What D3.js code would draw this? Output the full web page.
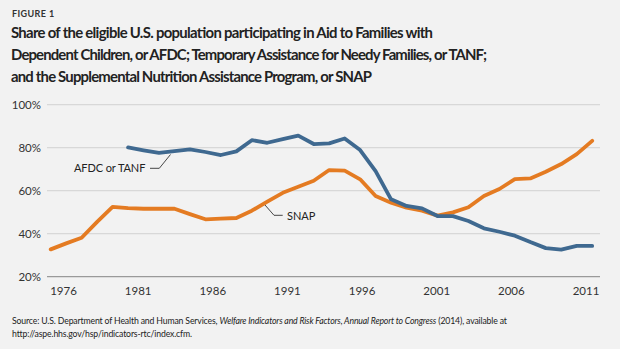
<!DOCTYPE html>
<meta charset="utf-8">
<script src="https://d3js.org/d3.v7.min.js"></script>
<html>
<head>
<style>
  body { margin: 0; background: #f2f2f2; }
  svg { display: block; font-family: Lato, "Open Sans", sans-serif; }
</style>
</head>
<body>
<div id="chart"></div>
<script>
// years and participation shares (percent)
var years = d3.range(1976, 2012);
var afdcYears = d3.range(1981, 2012);
var afdc = [80.1, 78.8, 77.6, 78.4, 79.2, 78.0, 76.6, 78.3, 83.5, 82.3, 84.0, 85.6, 81.7, 82.0, 84.3,
            78.9, 69.1, 56.0, 52.9, 51.8, 48.2, 48.2, 45.9, 42.5, 40.9, 39.1, 36.1, 33.3, 32.6, 34.3, 34.3];
var snap = [32.7, 35.5, 38.1, 45.5, 52.5, 51.9, 51.6, 51.6, 51.6, 49.1, 46.7, 47.0, 47.3, 50.7, 54.9,
            59.0, 61.8, 64.6, 69.6, 69.3, 65.3, 57.5, 54.4, 52.1, 50.7, 48.4, 49.9, 52.3, 57.5, 60.8,
            65.4, 65.7, 68.8, 72.4, 77.0, 83.2];
var yTicks = [20, 40, 60, 80, 100];
var xLabels = ["1976", "1981", "1986", "1991", "1996", "2001", "2006", "2011"];

var titleLines = [
  "Share of the eligible U.S. population participating in Aid to Families with",
  "Dependent Children, or AFDC; Temporary Assistance for Needy Families, or TANF;",
  "and the Supplemental Nutrition Assistance Program, or SNAP"
];
// the original face is narrower than Lato, so each title line is fitted to its width
var titleWidths = [422, 476, 361];

var width = 620, height = 349;
var plot = {left: 47, right: 600, top: 104.7, bottom: 276.7};

var svg = d3.select("#chart").append("svg")
    .attr("width", width)
    .attr("height", height);

svg.append("rect").attr("width", width).attr("height", height).attr("fill", "#f2f2f2");

// header
svg.append("text")
    .attr("x", 12).attr("y", 17)
    .attr("font-size", 9).attr("font-weight", 700)
    .attr("letter-spacing", 0.4)
    .attr("fill", "#333")
    .text("FIGURE 1");

svg.append("g").selectAll("text")
  .data(titleLines)
  .enter().append("text")
    .attr("x", 11)
    .attr("y", function(d, i) { return 37.5 + i * 22; })
    .attr("font-size", 14.9).attr("font-weight", 700)
    .attr("textLength", function(d, i) { return titleWidths[i]; })
    .attr("lengthAdjust", "spacing")
    .attr("fill", "#222")
    .text(function(d) { return d; });

var x = d3.scaleLinear().domain([1976, 2011]).range([50.7, 592.2]);
var y = d3.scaleLinear().domain([20, 100]).range([plot.bottom, plot.top]);
// the category labels sit slightly inside the data range
var xl = d3.scalePoint().domain(xLabels).range([63, 585.5]);

// gridlines
svg.append("g").selectAll("line")
  .data(yTicks)
  .enter().append("line")
    .attr("x1", plot.left).attr("x2", plot.right)
    .attr("y1", function(d) { return y(d); })
    .attr("y2", function(d) { return y(d); })
    .attr("stroke", function(d) { return d === 20 ? "#9a9a9a" : "#d8d8d8"; })
    .attr("stroke-width", 1.3);

var yAxis = svg.append("g")
    .attr("transform", "translate(41,0)")
    .call(d3.axisLeft(y).tickValues(yTicks).tickSize(0).tickPadding(0)
      .tickFormat(function(d) { return d + "%"; }));
yAxis.select(".domain").remove();
yAxis.selectAll("text").attr("font-size", 11.5).attr("fill", "#333")
    .attr("font-family", "Lato, sans-serif");

var xAxis = svg.append("g")
    .attr("transform", "translate(0," + plot.bottom + ")")
    .call(d3.axisBottom(xl).tickSize(0).tickPadding(10));
xAxis.select(".domain").remove();
xAxis.selectAll("text").attr("font-size", 11.5).attr("fill", "#333")
    .attr("font-family", "Lato, sans-serif");

var line = d3.line()
    .x(function(d) { return x(d[0]); })
    .y(function(d) { return y(d[1]); });

svg.append("path")
    .datum(years.map(function(yr, i) { return [yr, snap[i]]; }))
    .attr("d", line)
    .attr("fill", "none")
    .attr("stroke", "#e47b22")
    .attr("stroke-width", 3.8)
    .attr("stroke-linejoin", "round")
    .attr("stroke-linecap", "round");

svg.append("path")
    .datum(afdcYears.map(function(yr, i) { return [yr, afdc[i]]; }))
    .attr("d", line)
    .attr("fill", "none")
    .attr("stroke", "#3f6990")
    .attr("stroke-width", 3.8)
    .attr("stroke-linejoin", "round")
    .attr("stroke-linecap", "round");

// series labels with leader lines
var lab = svg.append("g").attr("font-size", 11).attr("fill", "#222");
lab.append("text").attr("x", 74).attr("y", 172).attr("letter-spacing", -0.1).text("AFDC or TANF");
lab.append("path")
    .attr("d", "M150,168.3H159.3L170.5,154.5")
    .attr("fill", "none").attr("stroke", "#333").attr("stroke-width", 0.9);
lab.append("text").attr("x", 287).attr("y", 220).text("SNAP");
lab.append("path")
    .attr("d", "M265,205L274,215.3H282.7")
    .attr("fill", "none").attr("stroke", "#333").attr("stroke-width", 0.9);

// source note
var src = svg.append("text")
    .attr("x", 12).attr("y", 324)
    .attr("font-size", 8.7).attr("letter-spacing", -0.15).attr("fill", "#222");
src.append("tspan").text("Source: U.S. Department of Health and Human Services, ");
src.append("tspan").attr("font-style", "italic")
    .text("Welfare Indicators and Risk Factors, Annual Report to Congress");
src.append("tspan").text(" (2014), available at");
svg.append("text")
    .attr("x", 12).attr("y", 336.5)
    .attr("font-size", 8.7).attr("letter-spacing", -0.15).attr("fill", "#222")
    .text("http://aspe.hhs.gov/hsp/indicators-rtc/index.cfm.");
</script>
</body>
</html>
